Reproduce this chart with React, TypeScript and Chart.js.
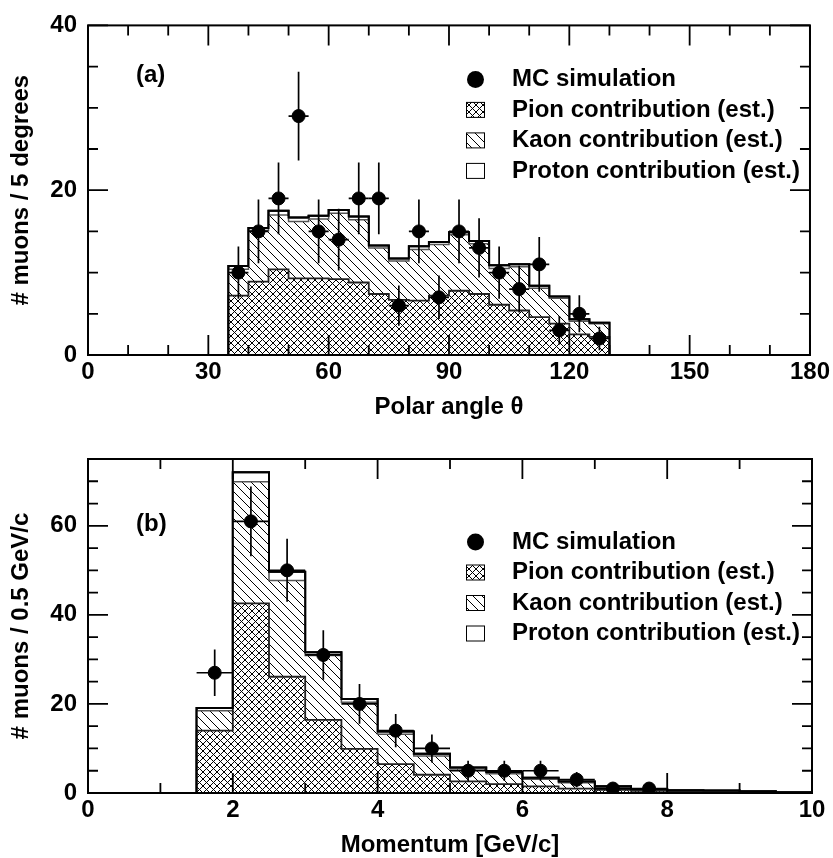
import React, { useEffect, useRef } from "react";
import { Chart, registerables } from "chart.js";

Chart.register(...registerables);

const FONT = '"Liberation Sans", Arial, Helvetica, sans-serif';

// ---------- Panel (a): polar angle ----------
const angleBinStart = 35;
const angleBinWidth = 5;
const anglePion = [7.2, 8.9, 10.4, 9.3, 9.3, 9.2, 8.8, 7.4, 6.7, 6.6, 7.2, 7.8, 7.4, 6.1, 5.4, 4.6, 3.8, 2.5, 2.2];
const angleKaon = [3.2, 6.2, 6.6, 6.9, 7.2, 8.0, 7.6, 5.6, 4.7, 6.2, 6.2, 6.8, 6.1, 4.4, 5.3, 3.5, 3.1, 1.6, 1.6];
const angleProton = [0.4, 0.3, 0.5, 0.5, 0.4, 0.4, 0.4, 0.3, 0.3, 0.4, 0.3, 0.3, 0.35, 0.4, 0.3, 0.3, 0.2, 0.25, 0.1];
const angleMC = [10, 15, 19, 29, 15, 14, 19, 19, 6, 15, 7, 15, 13, 10, 8, 11, 3, 5, 2];
const angleXTicks = [0, 30, 60, 90, 120, 150, 180];
const angleXMinor = [10, 20, 40, 50, 70, 80, 100, 110, 130, 140, 160, 170];
const angleYTicks = [0, 20, 40];
const angleYMinor = [5, 10, 15, 25, 30, 35];

// ---------- Panel (b): momentum ----------
const momBinStart = 1.5;
const momBinWidth = 0.5;
const momPion = [14.0, 42.6, 26.1, 16.4, 9.9, 6.5, 4.1, 2.6, 2.0, 1.5, 1.0, 0.7, 0.5, 0.3, 0.3, 0.2, 0.05];
const momKaon = [4.45, 27.3, 21.6, 14.5, 10.5, 6.7, 4.2, 2.8, 2.3, 1.6, 1.3, 0.6, 0.3, 0.2, 0.15, 0.15, 0.05];
const momProton = [0.65, 2.1, 2.0, 0.7, 0.7, 0.6, 0.5, 0.35, 0.4, 0.3, 0.3, 0.2, 0.1, 0.1, 0.1, 0.05, 0.05];
const momMC = [27, 61, 50, 31, 20, 14, 10, 5, 5, 5, 3, 1, 1];
const momXTicks = [0, 2, 4, 6, 8, 10];
const momXMinor = [1, 3, 5, 7, 9];
const momYTicks = [0, 20, 40, 60];
const momYMinor = [5, 10, 15, 25, 30, 35, 45, 50, 55, 65, 70];

const legendLabels = [
  "MC simulation",
  "Pion contribution (est.)",
  "Kaon contribution (est.)",
  "Proton contribution (est.)",
];

type Panel = {
  binStart: number;
  binWidth: number;
  pion: number[];
  kaon: number[];
  proton: number[];
  mc: number[];
  xMin: number;
  xMax: number;
  yMax: number;
  xTicks: number[];
  xMinor: number[];
  yTicks: number[];
  yMinor: number[];
  xTitle: string;
  yTitle: string;
  tag: string;
  padTop: number;
  xScaleHeight: number;
  xTitlePad: number;
  tagTop: number;
  legendTop: number;
};

const panels: Panel[] = [
  {
    binStart: angleBinStart,
    binWidth: angleBinWidth,
    pion: anglePion,
    kaon: angleKaon,
    proton: angleProton,
    mc: angleMC,
    xMin: 0,
    xMax: 180,
    yMax: 40,
    xTicks: angleXTicks,
    xMinor: angleXMinor,
    yTicks: angleYTicks,
    yMinor: angleYMinor,
    xTitle: "Polar angle θ",
    yTitle: "# muons / 5 degrees",
    tag: "(a)",
    padTop: 20,
    xScaleHeight: 74,
    xTitlePad: 7,
    tagTop: 50,
    legendTop: 54,
  },
  {
    binStart: momBinStart,
    binWidth: momBinWidth,
    pion: momPion,
    kaon: momKaon,
    proton: momProton,
    mc: momMC,
    xMin: 0,
    xMax: 10,
    yMax: 75,
    xTicks: momXTicks,
    xMinor: momXMinor,
    yTicks: momYTicks,
    yMinor: momYMinor,
    xTitle: "Momentum [GeV/c]",
    yTitle: "# muons / 0.5 GeV/c",
    tag: "(b)",
    padTop: 30,
    xScaleHeight: 65,
    xTitlePad: -2,
    tagTop: 65,
    legendTop: 83,
  },
];

function makeCross(): CanvasPattern {
  const s = 7;
  const c = document.createElement("canvas");
  c.width = s;
  c.height = s;
  const g = c.getContext("2d")!;
  g.fillStyle = "#fff";
  g.fillRect(0, 0, s, s);
  g.strokeStyle = "#000";
  g.lineWidth = 1;
  g.beginPath();
  g.moveTo(-1, -1);
  g.lineTo(s + 1, s + 1);
  g.moveTo(s + 1, -1);
  g.lineTo(-1, s + 1);
  g.stroke();
  return g.createPattern(c, "repeat")!;
}

function makeDiag(): CanvasPattern {
  const s = 9;
  const c = document.createElement("canvas");
  c.width = s;
  c.height = s;
  const g = c.getContext("2d")!;
  g.fillStyle = "#fff";
  g.fillRect(0, 0, s, s);
  g.strokeStyle = "#000";
  g.lineWidth = 1;
  g.beginPath();
  g.moveTo(-1, -1);
  g.lineTo(s + 1, s + 1);
  g.stroke();
  return g.createPattern(c, "repeat")!;
}

function stepPoints(start: number, width: number, values: number[]) {
  const pts: { x: number; y: number }[] = [{ x: start, y: 0 }];
  values.forEach((v, i) => pts.push({ x: start + i * width, y: v }));
  const end = start + values.length * width;
  pts.push({ x: end, y: values[values.length - 1] });
  pts.push({ x: end, y: 0 });
  return pts;
}

function PanelChart({ p, top }: { p: Panel; top: number }) {
  const ref = useRef<HTMLCanvasElement | null>(null);

  useEffect(() => {
    const canvas = ref.current!;
    const cross = makeCross();
    const diag = makeDiag();
    const cumPion = p.pion.slice();
    const cumKaon = p.pion.map((v, i) => v + p.kaon[i]);
    const cumAll = cumKaon.map((v, i) => v + p.proton[i]);
    const mcPts = p.mc.map((v, i) => ({ x: p.binStart + (i + 0.5) * p.binWidth, y: v }));
    const font = { family: FONT, size: 24, weight: "bold" as const };

    const decor = {
      id: "decor",
      afterDatasetsDraw(chart: any) {
        const { ctx, scales } = chart;
        const x = scales.x;
        const y = scales.y;
        ctx.save();
        ctx.strokeStyle = "#000";
        ctx.lineWidth = 1.7;
        mcPts.forEach((pt) => {
          const e = Math.sqrt(pt.y);
          const px = x.getPixelForValue(pt.x);
          const py = y.getPixelForValue(pt.y);
          ctx.beginPath();
          ctx.moveTo(px, y.getPixelForValue(pt.y - e));
          ctx.lineTo(px, y.getPixelForValue(pt.y + e));
          ctx.moveTo(x.getPixelForValue(pt.x - p.binWidth / 2), py);
          ctx.lineTo(x.getPixelForValue(pt.x + p.binWidth / 2), py);
          ctx.stroke();
        });
        ctx.restore();
      },
      afterDraw(chart: any) {
        const { ctx, chartArea: a, scales } = chart;
        const x = scales.x;
        const y = scales.y;
        ctx.save();
        ctx.strokeStyle = "#000";
        ctx.lineWidth = 2;
        ctx.strokeRect(a.left, a.top, a.right - a.left, a.bottom - a.top);
        const tickX = (vals: number[], len: number) => {
          vals.forEach((v) => {
            const px = x.getPixelForValue(v);
            ctx.beginPath();
            ctx.moveTo(px, a.bottom);
            ctx.lineTo(px, a.bottom - len);
            ctx.moveTo(px, a.top);
            ctx.lineTo(px, a.top + len);
            ctx.stroke();
          });
        };
        const tickY = (vals: number[], len: number) => {
          vals.forEach((v) => {
            const py = y.getPixelForValue(v);
            ctx.beginPath();
            ctx.moveTo(a.left, py);
            ctx.lineTo(a.left + len, py);
            ctx.moveTo(a.right, py);
            ctx.lineTo(a.right - len, py);
            ctx.stroke();
          });
        };
        ctx.lineWidth = 1.8;
        tickX(p.xTicks, 20);
        tickX(p.xMinor, 10);
        tickY(p.yTicks, 20);
        tickY(p.yMinor, 10);

        // tag
        ctx.fillStyle = "#000";
        ctx.font = `bold 24px ${FONT}`;
        ctx.textBaseline = "middle";
        ctx.textAlign = "left";
        ctx.fillText(p.tag, a.left + 48, a.top + p.tagTop);

        // legend
        const mx = 475.5;
        const tx = 512;
        const rowY = (i: number) => a.top + p.legendTop + i * 30.5;
        legendLabels.forEach((label, i) => {
          const yy = rowY(i);
          if (i === 0) {
            ctx.beginPath();
            ctx.arc(mx, yy, 8.5, 0, Math.PI * 2);
            ctx.fillStyle = "#000";
            ctx.fill();
          } else {
            const fill = i === 1 ? cross : i === 2 ? diag : "#fff";
            ctx.fillStyle = fill as any;
            ctx.fillRect(mx - 9, yy - 7.5, 18, 15);
            ctx.lineWidth = 1;
            ctx.strokeStyle = "#000";
            ctx.strokeRect(mx - 9, yy - 7.5, 18, 15);
          }
          ctx.fillStyle = "#000";
          ctx.fillText(label, tx, yy);
        });
        ctx.restore();
      },
    };

    const chart = new Chart(canvas, {
      type: "line",
      data: {
        datasets: [
          {
            label: "MC simulation",
            data: mcPts,
            showLine: false,
            pointRadius: 6.5,
            pointHoverRadius: 6.5,
            pointBackgroundColor: "#000",
            pointBorderColor: "#000",
            borderColor: "#000",
            backgroundColor: "#000",
          },
          {
            label: "total outline",
            data: stepPoints(p.binStart, p.binWidth, cumAll),
            stepped: true,
            fill: false,
            borderColor: "#000",
            borderWidth: 2,
            pointRadius: 0,
          },
          {
            label: "Pion contribution (est.)",
            data: stepPoints(p.binStart, p.binWidth, cumPion),
            stepped: true,
            fill: "origin",
            backgroundColor: cross as any,
            borderColor: "#222",
            borderWidth: 1.8,
            pointRadius: 0,
          },
          {
            label: "Kaon contribution (est.)",
            data: stepPoints(p.binStart, p.binWidth, cumKaon),
            stepped: true,
            fill: "origin",
            backgroundColor: diag as any,
            borderColor: "#555",
            borderWidth: 1.5,
            pointRadius: 0,
          },
          {
            label: "Proton contribution (est.)",
            data: stepPoints(p.binStart, p.binWidth, cumAll),
            stepped: true,
            fill: "origin",
            backgroundColor: "#fff",
            borderColor: "#000",
            borderWidth: 2,
            pointRadius: 0,
          },
        ],
      },
      options: {
        responsive: false,
        animation: false,
        events: [],
        layout: { padding: { top: p.padTop, right: 21, left: 0, bottom: 0 } },
        plugins: { legend: { display: false }, tooltip: { enabled: false } },
        scales: {
          x: {
            type: "linear",
            min: p.xMin,
            max: p.xMax,
            afterBuildTicks: (s: any) => {
              s.ticks = p.xTicks.map((v) => ({ value: v }));
            },
            afterFit: (s: any) => {
              s.height = p.xScaleHeight;
            },
            grid: { display: false, drawTicks: false },
            border: { display: false },
            ticks: {
              font,
              color: "#000",
              padding: 3,
              maxRotation: 0,
              autoSkip: false,
              callback: (v: any) => String(v),
            },
            title: {
              display: true,
              text: p.xTitle,
              font,
              color: "#000",
              padding: { top: 0, bottom: p.xTitlePad },
            },
          },
          y: {
            type: "linear",
            min: 0,
            max: p.yMax,
            afterBuildTicks: (s: any) => {
              s.ticks = p.yTicks.map((v) => ({ value: v }));
            },
            afterFit: (s: any) => {
              s.width = 88;
            },
            grid: { display: false, drawTicks: false },
            border: { display: false },
            ticks: {
              font,
              color: "#000",
              padding: 11,
              autoSkip: false,
              callback: (v: any) => String(v),
            },
            title: {
              display: true,
              text: p.yTitle,
              font,
              color: "#000",
              padding: { top: 7, bottom: 0 },
            },
          },
        },
      },
      plugins: [decor],
    });
    return () => chart.destroy();
  }, [p]);

  return (
    <canvas
      ref={ref}
      width={833}
      height={429}
      style={{ position: "absolute", left: 0, top, width: 833, height: 429 }}
    />
  );
}

export default function App() {
  return (
    <div style={{ position: "absolute", left: 0, top: 0, width: 833, height: 858, background: "#fff" }}>
      <PanelChart p={panels[0]} top={0} />
      <PanelChart p={panels[1]} top={429} />
    </div>
  );
}
